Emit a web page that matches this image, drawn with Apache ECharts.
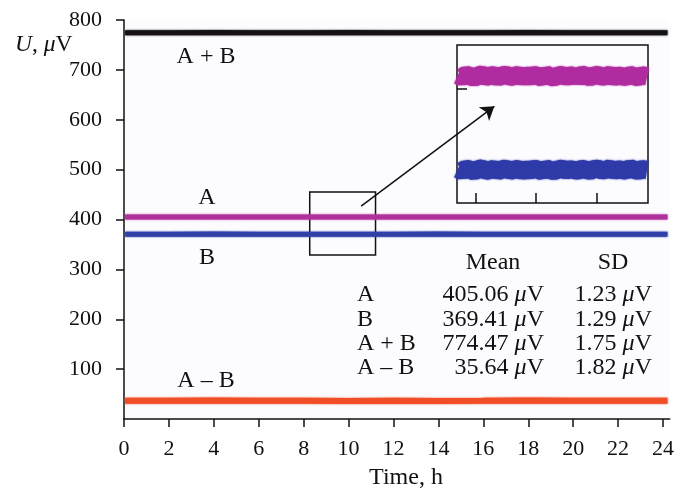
<!DOCTYPE html>
<html>
<head>
<meta charset="utf-8">
<script src="https://cdn.jsdelivr.net/npm/echarts@6/dist/echarts.min.js"></script>
<style>
  html, body { margin: 0; padding: 0; background: #fff; }
  #main { width: 677px; height: 493px; }
</style>
</head>
<body>
<div id="main"></div>
<script>
  // time, h
  var hours = [0.05, 2, 4, 6, 8, 10, 12, 14, 16, 18, 20, 22, 24.2]
  // U, uV
  var sumAB = [774.6, 774.4, 774.8, 774.5, 774.3, 774.7, 774.5, 774.6, 774.4, 774.8, 774.5, 774.6, 774.5]
  var seriesA = [405.0, 405.2, 404.8, 405.1, 404.9, 405.0, 405.2, 404.9, 405.1, 405.0, 404.8, 405.1, 405.0]
  var seriesB = [370.6, 370.4, 370.7, 370.5, 370.3, 370.6, 370.5, 370.7, 370.4, 370.6, 370.5, 370.3, 370.6]
  var diffAB = [36.8, 36.5, 36.9, 36.4, 36.7, 36.3, 36.6, 36.2, 36.5, 36.9, 36.6, 36.4, 36.5]

  // zoomed region (inset)
  var zoomBox = [8.27, 455, 11.2, 329]
  var insetTime = [1, 5, 9, 13, 17, 21, 25, 29, 33, 37, 41, 45, 49, 53, 57, 61, 65, 69, 73, 77, 81, 85, 89, 93, 97, 101, 105, 109, 113, 117, 119, 121, 125, 129, 133, 137, 141, 145, 149, 153, 157, 161, 165, 169, 173, 177, 181, 185, 190]
  var insetA = [404.9, 404.2, 405.1, 404.6, 404.0, 404.8, 405.2, 404.3, 404.7, 405.0, 404.1, 404.8, 405.1, 404.3, 404.6, 405.0, 404.2, 404.9, 404.4, 405.0, 404.6, 404.0, 405.2, 404.5, 404.1, 404.8, 405.0, 404.3, 404.9, 404.5, 402.8, 404.3, 405.1, 404.7, 404.2, 404.8, 405.0, 404.4, 404.6, 405.1, 404.2, 404.8, 404.5, 404.3, 405.0, 404.6, 404.2, 404.9, 404.5]
  var insetB = [369.9, 369.2, 370.1, 369.7, 369.1, 369.9, 370.2, 369.3, 369.6, 370.1, 369.2, 369.8, 370.2, 369.3, 369.7, 370.0, 369.2, 369.8, 369.4, 370.1, 369.7, 369.1, 370.2, 369.6, 369.2, 369.8, 370.1, 369.4, 369.9, 369.6, 369.3, 369.4, 370.0, 369.7, 369.3, 369.9, 370.1, 369.4, 369.7, 370.2, 369.3, 369.8, 369.6, 369.4, 370.3, 369.7, 369.3, 369.9, 369.6]

  // statistics table
  var tableNames = ['A', 'B', 'A + B', 'A \u2013 B']
  var tableMean = ['405.06', '369.41', '774.47', '35.64']
  var tableSD = ['1.23', '1.29', '1.75', '1.82']

  var font = '"Liberation Serif", "Times New Roman", serif'

  function pairs(xs, ys) {
    var out = []
    for (var i = 0; i < xs.length; i++) {
      out.push([xs[i], ys[i]])
    }
    return out
  }

  function mainLine(name, data, color, width) {
    return {
      name: name,
      type: 'line',
      showSymbol: false,
      silent: true,
      data: pairs(hours, data),
      lineStyle: { color: color, width: width, shadowColor: color, shadowBlur: 2 }
    }
  }

  function insetLine(name, data, color) {
    return {
      name: name,
      type: 'line',
      xAxisIndex: 1,
      yAxisIndex: 1,
      showSymbol: false,
      silent: true,
      z: 4,
      data: pairs(insetTime, data),
      lineStyle: { color: color, width: 18, shadowColor: color, shadowBlur: 2 }
    }
  }

  function label(text, x, y, size, align) {
    return {
      type: 'text', x: x, y: y, z: 10,
      style: {
        text: text, font: size + 'px ' + font, fill: '#111',
        align: align || 'center', verticalAlign: 'middle',
        rich: { i: { fontStyle: 'italic', fontFamily: font, fontSize: size } }
      }
    }
  }

  var chart = echarts.init(document.getElementById('main'))

  var graphics = [
    label('{i|U}, {i|\u03bc}V', 15, 45, 23.5, 'left'),
    label('A + B', 206, 57, 24),
    label('A', 207, 198, 24),
    label('B', 207, 258, 24),
    label('A \u2013 B', 206, 381, 24),
    label('Mean', 493, 263, 24),
    label('SD', 613, 263, 24),
    label('Time, h', 406, 478, 24)
  ]
  var rowY = [295, 320, 344, 368]
  for (var r = 0; r < tableNames.length; r++) {
    graphics.push(label(tableNames[r], 357, rowY[r], 24, 'left'))
    graphics.push(label(tableMean[r] + ' {i|\u03bc}V', 544, rowY[r], 24, 'right'))
    graphics.push(label(tableSD[r] + ' {i|\u03bc}V', 652, rowY[r], 24, 'right'))
  }

  var axisLabelStyle = { color: '#111', fontFamily: font, fontSize: 22 }

  chart.setOption({
    animation: false,
    backgroundColor: '#fff',
    textStyle: { fontFamily: font },
    grid: [
      { left: 124, top: 20, right: 6, bottom: 74, show: true, backgroundColor: '#fcfcff', borderWidth: 0 },
      { left: 457, top: 45, width: 191, height: 158, show: true, backgroundColor: '#fcfcff', borderColor: '#111', borderWidth: 1.5 }
    ],
    xAxis: [{
      type: 'value',
      min: 0,
      max: 24.3,
      interval: 2,
      axisLine: { lineStyle: { color: '#111', width: 1.5 } },
      axisTick: { inside: false, length: 8, lineStyle: { color: '#111', width: 1.5 } },
      axisLabel: Object.assign({ margin: 19, showMaxLabel: false }, axisLabelStyle),
      splitLine: { show: false }
    }, {
      type: 'value',
      gridIndex: 1,
      min: 0,
      max: 191,
      axisLine: { show: false },
      axisTick: { inside: true, length: 10, customValues: [19, 79, 140], lineStyle: { color: '#111', width: 1.5 } },
      axisLabel: { show: false },
      splitLine: { show: false }
    }],
    yAxis: [{
      type: 'value',
      min: 0,
      max: 800,
      interval: 100,
      axisLine: { show: true, lineStyle: { color: '#111', width: 1.5 } },
      axisTick: { show: true, inside: false, length: 8, lineStyle: { color: '#111', width: 1.5 } },
      axisLabel: Object.assign({ margin: 22, showMinLabel: false }, axisLabelStyle),
      splitLine: { show: false }
    }, {
      type: 'value',
      gridIndex: 1,
      min: 357.3,
      max: 416.2,
      axisLine: { show: false },
      axisTick: { show: true, inside: true, length: 10, customValues: [400], lineStyle: { color: '#111', width: 1.5 } },
      axisLabel: { show: false },
      splitLine: { show: false }
    }],
    series: [
      mainLine('A + B', sumAB, '#161214', 5),
      mainLine('A', seriesA, '#b0309c', 5),
      mainLine('B', seriesB, '#2f40a8', 5),
      mainLine('A - B', diffAB, '#f04e26', 6),
      insetLine('A zoom', insetA, '#b02aa0'),
      insetLine('B zoom', insetB, '#2e3aa8'),
      {
        name: 'marks',
        type: 'line',
        data: [],
        silent: true,
        z: 8,
        markArea: {
          silent: true,
          itemStyle: { color: 'rgba(0,0,0,0)', borderColor: '#111', borderWidth: 1.5 },
          data: [[{ coord: [zoomBox[0], zoomBox[1]] }, { coord: [zoomBox[2], zoomBox[3]] }]]
        },
        markLine: {
          silent: true,
          symbol: ['none', 'arrow'],
          symbolSize: 13,
          label: { show: false },
          lineStyle: { color: '#111', width: 1.5, type: 'solid' },
          itemStyle: { color: '#111' },
          data: [[{ coord: [10.56, 427] }, { coord: [16.49, 627] }]]
        }
      }
    ],
    graphic: graphics
  })
</script>
</body>
</html>
